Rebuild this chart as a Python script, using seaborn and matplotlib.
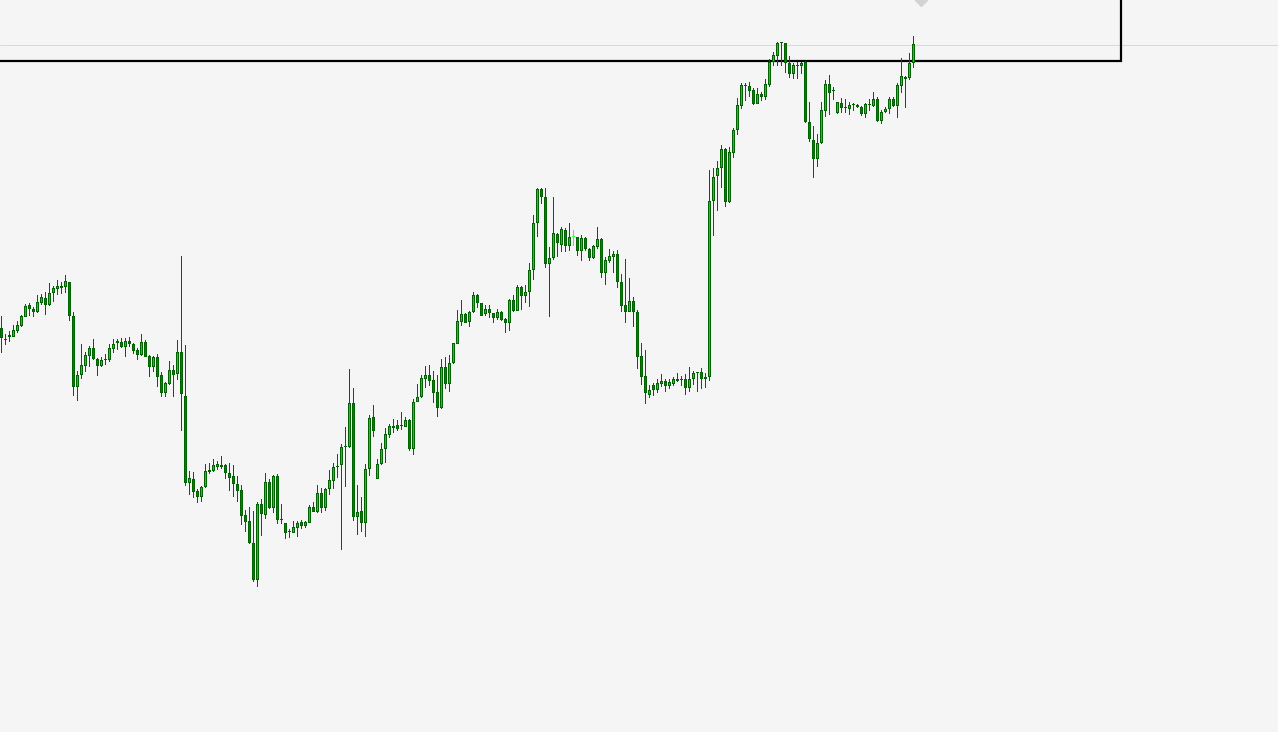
import numpy as np
import matplotlib
matplotlib.use("Agg")
import matplotlib.pyplot as plt
import seaborn as sns

# ---- OHLC data (price points) ----
opens = [404,392,395,395,401,406,415,427,423,420,
         429,434,427,439,443,444,445,450,416,345,
         357,366,376,384,373,366,372,372,383,389,
         390,385,391,388,382,377,390,376,365,375,
         357,339,348,362,358,380,336,249,253,241,
         235,245,260,261,265,267,267,259,256,248,
         242,217,211,189,152,228,217,250,224,256,
         212,209,200,199,204,210,206,209,225,220,
         239,224,243,251,265,267,285,285,329,215,
         221,209,263,315,253,268,283,297,304,307,
         306,305,312,283,330,335,353,357,352,340,
         324,365,348,369,388,410,418,410,420,437,
         429,418,423,419,414,420,413,409,432,421,
         445,436,440,462,509,543,535,468,474,498,
         487,502,486,495,495,481,494,483,474,485,
         493,459,471,475,478,450,427,420,431,420,
         376,356,337,347,342,348,351,346,348,351,
         352,353,344,353,359,360,353,355,531,556,
         564,583,530,579,602,626,646,646,642,628,
         638,635,647,670,676,689,689,669,658,666,
         666,670,610,592,573,589,621,648,642,619,
         629,624,623,627,627,625,618,627,626,633,
         611,620,623,633,626,646,655,654,669]
highs = [416,398,401,407,411,417,428,429,425,437,
         438,440,449,446,452,450,457,450,420,361,
         388,380,386,393,374,375,378,388,393,393,
         394,394,395,389,384,398,392,377,376,378,
         360,350,371,367,392,476,387,261,260,243,
         246,268,269,273,271,276,268,269,267,256,
         247,222,225,221,230,233,259,253,257,258,
         228,209,203,211,211,212,211,227,230,247,
         244,244,262,269,278,288,305,363,344,247,
         235,268,317,327,273,289,304,308,313,312,
         320,315,313,333,348,357,366,367,361,357,
         373,375,377,389,422,432,419,421,440,438,
         429,427,427,419,423,421,414,433,437,447,
         446,447,469,517,544,544,544,485,535,499,
         505,504,509,502,495,497,495,484,487,505,
         494,475,483,481,482,458,473,454,435,422,
         389,382,347,349,353,358,353,353,355,359,
         356,358,365,361,360,364,359,562,564,571,
         587,584,585,604,634,649,649,650,644,644,
         640,653,673,680,690,690,689,676,669,670,
         670,671,630,606,598,630,652,657,645,630,
         634,633,630,629,628,626,629,633,640,635,
         622,625,635,635,649,674,656,679,696]
lows = [379,387,390,395,399,405,415,416,415,419,
        427,417,426,430,437,438,439,411,336,331,
        353,360,365,372,356,365,367,370,379,382,
        384,375,385,378,372,376,375,355,360,345,
        335,335,347,335,352,301,246,237,234,229,
        230,244,258,260,262,263,253,241,235,230,
        207,200,188,150,145,196,213,223,219,208,
        208,193,194,199,195,203,204,209,220,219,
        219,221,237,243,254,182,245,284,211,197,
        200,195,256,295,253,267,269,294,299,301,
        302,305,281,277,330,334,344,346,329,315,
        323,343,340,368,388,406,409,405,419,424,
        416,416,414,409,412,411,399,401,420,421,
        422,429,425,452,495,528,464,415,472,475,
        480,480,481,486,476,471,481,471,473,483,
        454,447,469,459,444,420,409,420,405,363,
        347,328,334,336,339,345,340,343,346,350,
        346,337,340,347,340,343,344,351,496,521,
        544,525,529,574,597,623,631,635,627,628,
        631,632,645,666,666,666,659,654,653,653,
        658,609,590,554,565,588,615,617,632,618,
        619,619,617,621,624,616,614,621,625,610,
        608,619,618,625,614,639,624,652,664]
closes = [394,393,397,402,407,416,426,423,420,430,
          435,427,439,444,446,446,451,416,345,357,
          367,377,384,373,366,372,372,384,388,391,
          385,391,388,381,377,390,375,365,375,355,
          339,349,362,357,380,338,249,254,240,235,
          245,261,262,267,268,265,259,254,248,241,
          216,210,189,152,228,218,250,224,256,212,
          212,199,200,205,209,206,210,225,220,239,
          224,243,252,265,266,285,286,329,215,220,
          209,263,314,301,268,283,298,306,306,303,
          306,312,283,330,335,354,357,351,339,324,
          365,348,369,389,411,418,409,420,437,429,
          416,423,419,414,420,412,409,432,421,445,
          436,440,462,509,543,535,468,474,499,489,
          503,486,495,495,481,494,483,474,486,493,
          459,472,476,478,450,426,420,431,420,375,
          355,339,342,342,349,351,346,350,353,353,
          352,344,353,359,359,353,355,531,555,564,
          583,530,580,602,627,647,646,641,628,638,
          635,648,670,677,689,689,669,658,667,667,
          669,610,593,573,589,622,648,639,641,630,
          624,624,627,627,625,618,628,627,633,611,
          620,623,633,626,647,656,653,669,688]

highlight_bar = 143          # bar drawn in bright lime (selected doji)
frame_level = 671            # black horizontal level line
frame_end_bar = 279.875      # where the level line turns upward
ref_level = 687.5            # thin grey horizontal line
marker_bar = 229.95          # grey marker at the top edge
price_min, price_max = 0, 732

BG = "#f5f5f5"
EDGE = "#006400"
UP_FILL = "#22c322"
DOWN_FILL = "#c81e00"
LIME = "#33ff33"

sns.set_style("white", {"axes.facecolor": BG, "figure.facecolor": BG})

o = np.array(opens, float)
h = np.array(highs, float)
l = np.array(lows, float)
c = np.array(closes, float)
n = len(o)
x = np.arange(n)

fig = plt.figure(figsize=(12.78, 7.32), dpi=100, facecolor=BG)
ax = fig.add_axes([0, 0, 1, 1])
ax.set_facecolor(BG)
ax.set_xlim(-0.375, -0.375 + 1278 / 4)
ax.set_ylim(price_min, price_max)
ax.axis("off")

# reference line and level frame
ax.axhline(ref_level, color="#d9d9d9", lw=0.72, zorder=1)
ax.plot([-0.375, frame_end_bar, frame_end_bar], [frame_level, frame_level, price_max + 10],
        color="black", lw=1.6, solid_joinstyle="miter", zorder=2)
ax.plot([marker_bar], [price_max], marker="D", ms=6, color="#d3d3d3", mec="#d3d3d3",
        clip_on=True, zorder=1)

edge_cols = [EDGE] * n
edge_cols[highlight_bar] = LIME

# wicks (1 px wide)
ax.bar(x, h - l, bottom=l, width=0.25, color=edge_cols, linewidth=0, zorder=3)

# bodies: 3 px outline block, 1 px coloured core
lo = np.minimum(o, c)
hi = np.maximum(o, c)
hi = np.where(hi - lo < 1, lo + 1, hi)
ax.bar(x, hi - lo, bottom=lo, width=0.75, color=edge_cols, linewidth=0, zorder=4)
fill = np.where(c > o, UP_FILL, DOWN_FILL)
m = (hi - lo) > 2
ax.bar(x[m], (hi - lo)[m] - 2, bottom=lo[m] + 1, width=0.25, color=list(fill[m]),
       linewidth=0, zorder=5)

fig.savefig("out.png", dpi=100, facecolor=BG)
